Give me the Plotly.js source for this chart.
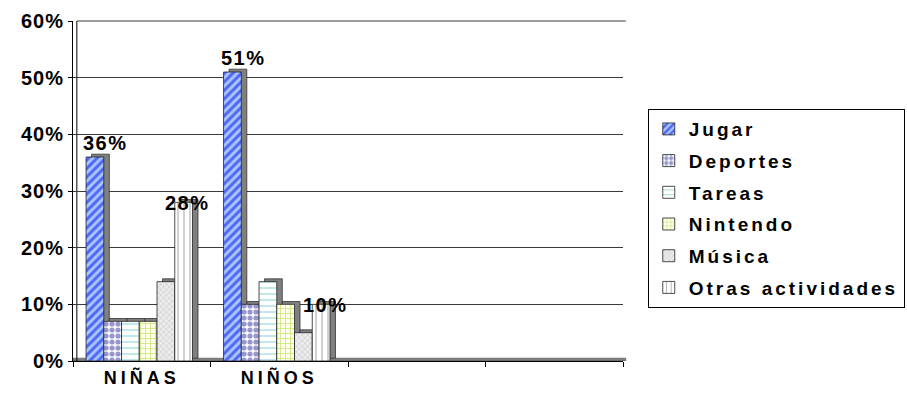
<!DOCTYPE html>
<html>
<head>
<meta charset="utf-8">
<script src="https://cdn.plot.ly/plotly-3.0.1.min.js"></script>
<style>
  html, body { margin: 0; padding: 0; background: #fff; }
  #chart { width: 907px; height: 403px; }
  .legendtext { letter-spacing: 3px; }
  .annotation-text { letter-spacing: 1.5px; }
  .xtick text { letter-spacing: 4px; }
  .ytick text { letter-spacing: 1px; }
</style>
</head>
<body>
<div id="chart"></div>
<script>
// Category slots along the x axis (the last two are empty slots)
const categories = ['NIÑAS', 'NIÑOS', ' ', '  '];

// Series values (fraction of children), one entry per slot
const seriesNames = ['Jugar', 'Deportes', 'Tareas', 'Nintendo', 'Música', 'Otras actividades'];
const jugar    = [0.36, 0.51, null, null];
const deportes = [0.07, 0.10, null, null];
const tareas   = [0.07, 0.14, null, null];
const nintendo = [0.07, 0.10, null, null];
const musica   = [0.14, 0.05, null, null];
const otras    = [0.28, 0.10, null, null];

// Which series carry a value label
const labelledSeries = ['Jugar', 'Otras actividades'];

const seriesValues = [jugar, deportes, tareas, nintendo, musica, otras];

// Fill patterns per series
const patterns = [
  { shape: '/', fgcolor: '#0000ee', bgcolor: '#a6c8ff', size: 6, solidity: 0.5 },
  { shape: '.', fgcolor: '#2e2e99', bgcolor: '#ffffff', size: 6, solidity: 0.6 },
  { shape: '-', fgcolor: '#5cc4c4', bgcolor: '#ffffff', size: 6, solidity: 0.25 },
  { shape: '+', fgcolor: '#99cc00', bgcolor: '#ffffee', size: 5, solidity: 0.3 },
  { shape: 'x', fgcolor: '#a8a8a8', bgcolor: '#ececec', size: 4, solidity: 0.3 },
  { shape: '|', fgcolor: '#000000', bgcolor: '#ffffff', size: 6, solidity: 0.12 }
];

// Bar geometry inside one category slot (in category units)
const barWidth = 0.129;
const firstOffset = -0.405;
const depthX = 0.04;      // sideways depth of the pseudo-3D box
const depthY = 0.005;     // upward depth of the pseudo-3D box
const slotPx = 550 / categories.length;

const font = 'Liberation Sans, Arial, sans-serif';
const traces = [];
seriesNames.forEach((name, i) => {
  const off = firstOffset + i * barWidth;
  // back face, peeking out as the side/top of the box
  traces.push({
    type: 'bar', x: categories, y: seriesValues[i],
    base: depthY, offset: off + depthX, width: barWidth,
    marker: { color: '#808080', line: { color: '#333333', width: 0.8 } },
    showlegend: false, hoverinfo: 'skip', legendgroup: 'g' + i
  });
  // front face
  traces.push({
    type: 'bar', name: name, x: categories, y: seriesValues[i],
    offset: off, width: barWidth,
    marker: { color: patterns[i].bgcolor, pattern: Object.assign({ fillmode: 'overlay' }, patterns[i]),
              line: { color: '#222222', width: 0.8 } },
    legendgroup: 'g' + i,
    hovertemplate: '%{x}: %{y:.0%}<extra>' + name + '</extra>'
  });
});

// Value labels, placed from the same values the bars use
const annotations = [];
seriesNames.forEach((name, i) => {
  if (!labelledSeries.includes(name)) return;
  const centre = (firstOffset + i * barWidth + barWidth / 2) * slotPx;
  const isFirst = i === 0;
  seriesValues[i].forEach((v, k) => {
    if (v === null) return;
    annotations.push({
      x: categories[k], y: v, xref: 'x', yref: 'y',
      text: Math.round(v * 100) + '%', showarrow: false,
      xshift: centre + (isFirst ? 11 : 4),
      yshift: isFirst ? 1 : -1,
      yanchor: isFirst ? 'bottom' : 'middle',
      font: { family: font, size: 20, color: '#000', weight: 'bold' }
    });
  });
});

const layout = {
  width: 907, height: 403,
  margin: { l: 73, r: 284, t: 21, b: 42, autoexpand: false },
  paper_bgcolor: '#ffffff', plot_bgcolor: '#ffffff',
  barmode: 'overlay',
  font: { family: font, color: '#000' },
  xaxis: {
    type: 'category', categoryorder: 'array', categoryarray: categories,
    range: [-0.5, categories.length - 0.5],
    tickson: 'boundaries', ticks: 'outside', ticklen: 5, tickcolor: '#000',
    showgrid: false, showline: true, linecolor: '#000', linewidth: 1,
    tickfont: { family: font, size: 18, color: '#000', weight: 'bold' },
    fixedrange: true
  },
  yaxis: {
    range: [0, 0.6], dtick: 0.1, tickformat: '.0%',
    ticks: 'outside', ticklen: 4, tickcolor: '#000',
    showgrid: true, gridcolor: '#3a3a3a', gridwidth: 1,
    zeroline: false, showline: true, linecolor: '#000', linewidth: 1,
    tickfont: { family: font, size: 20, color: '#000', weight: 'bold' },
    fixedrange: true
  },
  legend: {
    x: 1.045, xanchor: 'left', y: 0.741, yanchor: 'top',
    bgcolor: '#ffffff', bordercolor: '#000', borderwidth: 1,
    traceorder: 'grouped', tracegroupgap: 4,
    font: { family: font, size: 19, color: '#000', weight: 'bold' }
  },
  shapes: [
    // floor of the chart
    { type: 'rect', xref: 'paper', yref: 'y', x0: 0, x1: 1.005, y0: 0, y1: 0.005,
      fillcolor: '#808080', line: { color: '#333', width: 0.5 }, layer: 'below' },
    // left edge of the back wall
    { type: 'line', xref: 'paper', yref: 'paper', x0: 0.007, x1: 0.007, y0: 0, y1: 1,
      line: { color: '#000', width: 1 }, layer: 'below' },
    // top edge of the back wall
    { type: 'line', xref: 'paper', yref: 'paper', x0: 0.007, x1: 1.005, y0: 1, y1: 1,
      line: { color: '#3a3a3a', width: 1 }, layer: 'below' }
  ],
  annotations: annotations
};

Plotly.newPlot('chart', traces, layout, { displayModeBar: false, staticPlot: true });
</script>
</body>
</html>
